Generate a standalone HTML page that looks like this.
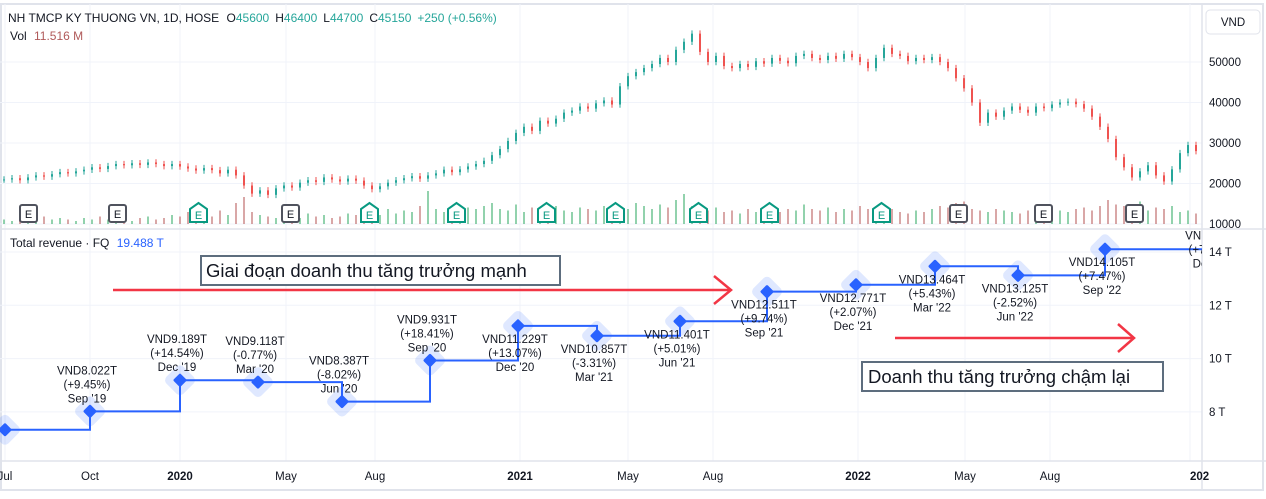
<!DOCTYPE html>
<html><head><meta charset="utf-8">
<style>
html,body{margin:0;padding:0;background:#fff;}
body{width:1266px;height:494px;overflow:hidden;font-family:"Liberation Sans","DejaVu Sans",sans-serif;}
svg text{font-family:"Liberation Sans","DejaVu Sans",sans-serif;}
</style></head>
<body>
<svg id="chart" width="1266" height="494" xmlns="http://www.w3.org/2000/svg">
<rect x="0" y="0" width="1266" height="494" fill="#fff"/>
<rect x="1" y="4" width="1262" height="486" fill="none" stroke="#e0e3eb" stroke-width="2"/>
<g id="grid"></g>
<g id="volume"></g>
<g id="candles"></g>
<g id="earnings"></g>
<line x1="0" y1="229" x2="1266" y2="229" stroke="#e0e3eb" stroke-width="1.5"/>
<line x1="1202" y1="4" x2="1202" y2="490" stroke="#e0e3eb" stroke-width="1.5"/>
<line x1="0" y1="461" x2="1266" y2="461" stroke="#e0e3eb" stroke-width="1.5"/>
<g id="revenue"></g>
<g id="axes"></g>
<text x="8" y="22" font-size="12" fill="#131722">NH TMCP KY THUONG VN, 1D, HOSE <tspan dx="4">O</tspan><tspan fill="#26a69a">45600</tspan><tspan dx="6">H</tspan><tspan fill="#26a69a">46400</tspan><tspan dx="6">L</tspan><tspan fill="#26a69a">44700</tspan><tspan dx="6">C</tspan><tspan fill="#26a69a">45150</tspan><tspan dx="6" fill="#26a69a">+250 (+0.56%)</tspan></text>
<text x="10" y="40" font-size="12" fill="#131722">Vol <tspan dx="4" fill="#b05a5a">11.516 M</tspan></text>
<text x="10" y="247" font-size="12" fill="#131722">Total revenue · FQ <tspan dx="4" fill="#2962ff">19.488 T</tspan></text>
<rect x="1206" y="10" width="54" height="24" rx="4" fill="#fff" stroke="#e0e3eb"/>
<text x="1233" y="26" font-size="11.5" fill="#131722" text-anchor="middle">VND</text>
<g>
<line x1="113" y1="290" x2="731" y2="290" stroke="#f23645" stroke-width="2.5"/>
<polyline points="714,276 731,290 714,304" fill="none" stroke="#f23645" stroke-width="2.5"/>
<rect x="201" y="256" width="359" height="29" fill="#fff" stroke="#5d6d7e" stroke-width="2"/>
<text x="206" y="277" font-size="18.5" fill="#131722">Giai đoạn doanh thu tăng trưởng mạnh</text>
</g>
<g>
<line x1="895" y1="338" x2="1134" y2="338" stroke="#f23645" stroke-width="2.5"/>
<polyline points="1118,324 1134,338 1118,352" fill="none" stroke="#f23645" stroke-width="2.5"/>
<rect x="862" y="362" width="301" height="29" fill="#fff" stroke="#5d6d7e" stroke-width="2"/>
<text x="868" y="383" font-size="18.5" fill="#131722">Doanh thu tăng trưởng chậm lại</text>
</g>
</svg>
<script>
const closes=[21,21.3,20.8,21.5,22,21.7,22.3,22.8,22.5,23,23.4,
24,23.6,24.3,24.8,24.5,25,24.6,25.2,24.8,24.3,
24.8,24.2,23.7,23.2,23.8,23.3,22.5,23.4,22,19.5,
17.5,18.3,17.2,18.8,19.5,19,20.2,20.8,20.4,21.5,
21,20.5,21.2,20.7,19.5,18.6,19.3,20.2,20.8,21.3,
21.8,21.2,22,22.5,23.4,22.8,23.5,24.2,24.8,25.6,
27,28.5,30.5,32.5,34,33,35.5,34.8,36,37.5,
38,39,38.5,39.8,40.5,39.5,44,46.5,47.5,48.5,
49.5,51,50,53,55,57,52.5,50,51.5,49,
48.5,49.5,48.8,50.2,49.6,51,50.3,49.7,51.5,52,
51,50.5,51.5,50.8,52,51.2,50,48.5,51,53.5,
52,51.5,50.2,51,50.5,51.2,50,48.5,46,43.5,
40,35,37.5,36.5,38,39,38.2,37.5,39,38.6,
39.5,40,40.2,39.6,38.5,36.5,34,31,26.5,24,
21.5,23,24.5,22,20.5,23.5,27.5,29.5,28];
const volumes=[3,2,4,3,2,5,3,4,3,2,4,3,5,3,4,3,2,4,5,3,4,6,5,8,4,7,5,9,6,14,
18,8,6,5,4,6,5,4,7,5,6,4,5,7,6,5,8,6,10,7,9,8,12,22,10,8,12,9,11,10,
12,14,10,9,13,8,11,9,10,12,9,8,11,10,9,12,11,8,10,14,12,10,13,11,16,20,12,10,9,11,
8,9,7,10,8,9,11,8,10,9,13,10,9,11,8,10,9,12,10,8,9,10,8,7,9,8,10,12,11,14,
15,10,9,8,10,9,8,7,9,8,8,7,9,8,10,11,9,12,16,13,12,10,15,9,11,10,12,8,9,7];
const priceTicks=[50000,40000,30000,20000,10000];
const revTicks=[14,12,10,8];
const timeLabels=["Jul","Oct","2020","May","Aug","2021","May","Aug","2022","May","Aug","202"];
const timePos=[5,90,180,286,375,520,628,713,858,965,1050,1190];
const revDates=["Jul '19","Sep '19","Dec '19","Mar '20","Jun '20","Sep '20","Dec '20","Mar '21","Jun '21","Sep '21","Dec '21","Mar '22","Jun '22","Sep '22","Dec '22"];
const revValues=[7.33,8.022,9.189,9.118,8.387,9.931,11.229,10.857,11.401,12.511,12.771,13.464,13.125,14.105,15.1];
const revChange=["","+9.45%","+14.54%","-0.77%","-8.02%","+18.41%","+13.07%","-3.31%","+5.01%","+9.74%","+2.07%","+5.43%","-2.52%","+7.47%","+7.24%"];
const revX=[5,90,180,258,342,430,518,597,680,767,856,935,1018,1105,1215];
const earnX=[28,117,198,290,369,456,546,615,698,769,881,958,1043,1134];
const earnType=["E","E","G","E","G","G","G","G","G","G","G","E","E","E"];

const NS="http://www.w3.org/2000/svg";
function mk(tag,attrs,parent){const e=document.createElementNS(NS,tag);for(const k in attrs)e.setAttribute(k,attrs[k]);parent.appendChild(e);return e;}
const yP=p=>62+(50000-p)*0.00405;
const yR=v=>252+(14-v)*26.65;
const xC=i=>4+8*i;
const grid=document.getElementById('grid'),axes=document.getElementById('axes');
priceTicks.forEach(t=>{
  const l=mk('line',{x1:0,x2:1202,y1:yP(t),y2:yP(t),stroke:'#f0f3fa'},grid);
  
  
  const tx=mk('text',{x:1209,y:yP(t)+4,'font-size':11.5,fill:'#131722'},axes);tx.textContent=t;
  
  
});
revTicks.forEach(t=>{
  const l=mk('line',{x1:0,x2:1202,y1:yR(t),y2:yR(t),stroke:'#f0f3fa'},grid);
  
  
  const tx=mk('text',{x:1209,y:yR(t)+4,'font-size':11.5,fill:'#131722'},axes);tx.textContent=t+' T';
  
  
});
timeLabels.forEach((s,i)=>{
  const l=mk('line',{x1:timePos[i],x2:timePos[i],y1:4,y2:461,stroke:'#f0f3fa'},grid);
  
  
  const bold=/^20/.test(s);
  const tx=mk('text',{x:timePos[i],y:480,'font-size':11.5,fill:'#131722','text-anchor':i==timeLabels.length-1?'start':'middle','font-weight':bold?'bold':'normal'},axes);tx.textContent=s;
  
  
});
const vg=document.getElementById('volume');
volumes.forEach((v,i)=>{
  const up=i==0||closes[i]>=closes[i-1];
  const h=v*1.5;
  const r=mk('rect',{x:xC(i)-1,y:224-h,width:2,height:h,fill:up?'rgba(38,166,91,0.5)':'rgba(180,80,80,0.5)'},vg);
  
  
});
const cg=document.getElementById('candles');
closes.forEach((c,i)=>{
  const o=i==0?c:closes[i-1];
  const up=c>=o;const col=up?'#26a69a':'#ef5350';
  const hi=Math.max(o,c)+0.8,lo=Math.min(o,c)-0.8;
  const w=mk('line',{x1:xC(i),x2:xC(i),y1:yP(hi*1000),y2:yP(lo*1000),stroke:col},cg);
  
  
  const top=yP(Math.max(o,c)*1000),bot=yP(Math.min(o,c)*1000);
  const b=mk('rect',{x:xC(i)-1,y:top,width:2,height:Math.max(1,bot-top),fill:col},cg);
  
  
});
const eg=document.getElementById('earnings');
earnX.forEach((x,i)=>{
  const g=mk('g',{},eg);
  
  
  if(earnType[i]=='E'){
    mk('rect',{x:x-8,y:205,width:17,height:17,rx:2,fill:'#fff',stroke:'#50535e','stroke-width':2},g);
    const t=mk('text',{x:x+0.5,y:218,'font-size':11,fill:'#131722','text-anchor':'middle'},g);t.textContent='E';
  }else{
    mk('path',{d:`M${x-8} 222 V209 L${x+0.5} 203 L${x+9} 209 V222 Z`,fill:'#fff',stroke:'#089981','stroke-width':2},g);
    const t=mk('text',{x:x+0.5,y:219,'font-size':11,fill:'#089981','text-anchor':'middle'},g);t.textContent='E';
  }
});
const rg=document.getElementById('revenue');
const clip=mk('clipPath',{id:'rc'},rg);mk('rect',{x:0,y:230,width:1202,height:231},clip);
const rin=mk('g',{'clip-path':'url(#rc)'},rg);
let d='';
revValues.forEach((v,i)=>{
  if(i==0)d+=`M${revX[0]-10} ${yR(v)} L${revX[0]} ${yR(v)}`;
  else d+=` L${revX[i]} ${yR(revValues[i-1])} L${revX[i]} ${yR(v)}`;
});
d+=` L1202 ${yR(revValues[revValues.length-1])}`;
revValues.forEach((v,i)=>{
  const h=mk('rect',{x:revX[i]-12,y:yR(v)-12,width:24,height:24,rx:5,fill:'rgba(41,98,255,0.15)',transform:`rotate(45 ${revX[i]} ${yR(v)})`},rin);
  
  
});
const pth=mk('path',{d:d,fill:'none',stroke:'#2962ff','stroke-width':2},rin);


revValues.forEach((v,i)=>{
  const y=yR(v);
  const m=mk('rect',{x:revX[i]-5,y:y-5,width:10,height:10,rx:1.5,fill:'#2962ff',transform:`rotate(45 ${revX[i]} ${y})`},rin);
  
  
  if(i==0)return;
  const below=i>=6;
  const lines=['VND'+v+'T','('+revChange[i]+')',revDates[i]];
  const y0=below?y+17:y-37;
  lines.forEach((s,k)=>{
    const t=mk('text',{x:revX[i]-3,y:y0+k*14,'font-size':11.5,fill:'#131722','text-anchor':'middle'},rin);
    t.textContent=s;
    
    
  });
});
</script>
</body></html>
